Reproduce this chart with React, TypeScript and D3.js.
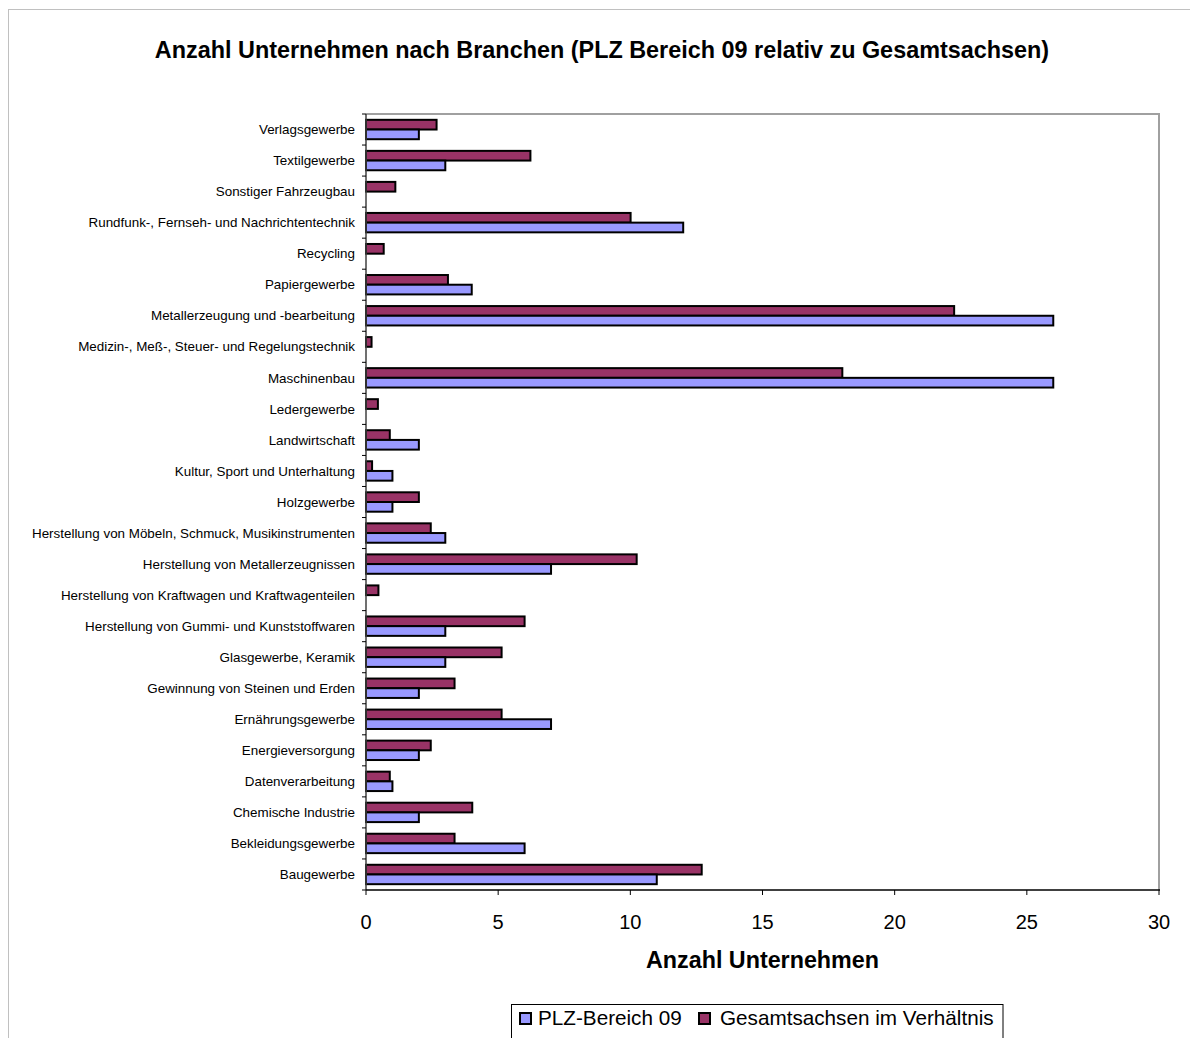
import React from "react";
import * as d3 from "d3";

const categories = [
  "Baugewerbe",
  "Bekleidungsgewerbe",
  "Chemische Industrie",
  "Datenverarbeitung",
  "Energieversorgung",
  "Ernährungsgewerbe",
  "Gewinnung von Steinen und Erden",
  "Glasgewerbe, Keramik",
  "Herstellung von Gummi- und Kunststoffwaren",
  "Herstellung von Kraftwagen und Kraftwagenteilen",
  "Herstellung von Metallerzeugnissen",
  "Herstellung von Möbeln, Schmuck, Musikinstrumenten",
  "Holzgewerbe",
  "Kultur, Sport und Unterhaltung",
  "Landwirtschaft",
  "Ledergewerbe",
  "Maschinenbau",
  "Medizin-, Meß-, Steuer- und Regelungstechnik",
  "Metallerzeugung und -bearbeitung",
  "Papiergewerbe",
  "Recycling",
  "Rundfunk-, Fernseh- und Nachrichtentechnik",
  "Sonstiger Fahrzeugbau",
  "Textilgewerbe",
  "Verlagsgewerbe",
];

const plz09 = [11, 6, 2, 1, 2, 7, 2, 3, 3, 0, 7, 3, 1, 1, 2, 0, 26, 0, 26, 4, 0, 12, 0, 3, 2];
const gesamt = [12.7, 3.35, 4.02, 0.9, 2.45, 5.13, 3.35, 5.13, 6.0, 0.47, 10.24, 2.45, 2.0, 0.23, 0.9, 0.45, 18.02, 0.21, 22.25, 3.1, 0.67, 10.01, 1.11, 6.22, 2.67];

const xTicks = [0, 5, 10, 15, 20, 25, 30];
const seriesNames = ["PLZ-Bereich 09", "Gesamtsachsen im Verhältnis"];
const colors = ["#9999FF", "#993366"];

const FONT = "'Liberation Sans', Arial, sans-serif";

export default function App() {
  const left = 366;
  const right = 1159;
  const top = 114;
  const bottom = 890;

  const x = d3.scaleLinear().domain([0, 30]).range([left, right]);
  // categories from bottom (Baugewerbe) to top
  const y = d3
    .scaleBand<string>()
    .domain(categories.slice().reverse())
    .range([top, bottom]);
  const bw = y.bandwidth();
  const barH = bw / 3.2;

  return (
    <svg
      width={1190}
      height={1038}
      style={{ position: "absolute", left: 0, top: 0, background: "#fff" }}
      fontFamily={FONT}
    >
      <rect x={0} y={0} width={1190} height={1038} fill="#fff" />
      {/* outer frame */}
      <rect x={8.5} y={9.5} width={1190} height={1100} fill="none" stroke="#c0c0c0" strokeWidth={1} />

      {/* title */}
      <text x={602} y={58} textAnchor="middle" fontSize={23.4} fontWeight="bold" fill="#000">
        Anzahl Unternehmen nach Branchen (PLZ Bereich 09 relativ zu Gesamtsachsen)
      </text>

      {/* plot border top/right */}
      <line x1={left} y1={top} x2={right + 1} y2={top} stroke="#a0a0a0" strokeWidth={2} />
      <line x1={right} y1={top} x2={right} y2={bottom} stroke="#a0a0a0" strokeWidth={2} />

      {/* bars */}
      {categories.map((c, i) => {
        const c0 = (y(c) as number) + bw / 2;
        return (
          <g key={c}>
            <rect
              x={x(0)}
              y={c0 - barH}
              width={x(gesamt[i]) - x(0)}
              height={barH}
              fill={colors[1]}
              stroke="#000"
              strokeWidth={2}
            />
            {plz09[i] > 0 && (
              <rect
                x={x(0)}
                y={c0}
                width={x(plz09[i]) - x(0)}
                height={barH}
                fill={colors[0]}
                stroke="#000"
                strokeWidth={2}
              />
            )}
          </g>
        );
      })}

      {/* left axis */}
      <line x1={left} y1={top} x2={left} y2={bottom} stroke="#404040" strokeWidth={1.5} />
      {d3.range(categories.length + 1).map((k) => {
        const yy = top + k * bw;
        return <line key={k} x1={left - 4} x2={left} y1={yy} y2={yy} stroke="#000" strokeWidth={1} />;
      })}
      {categories.map((c) => (
        <text
          key={c}
          x={355}
          y={(y(c) as number) + bw / 2}
          dy="0.35em"
          textAnchor="end"
          fontSize={13.4}
          fill="#000"
        >
          {c}
        </text>
      ))}

      {/* bottom axis */}
      <line x1={left} y1={bottom} x2={right + 1} y2={bottom} stroke="#000" strokeWidth={1.5} />
      {xTicks.map((t) => (
        <g key={t}>
          <line x1={x(t)} x2={x(t)} y1={bottom} y2={bottom + 5} stroke="#000" strokeWidth={1} />
          <text x={x(t)} y={928.5} textAnchor="middle" fontSize={20} fill="#000">
            {t}
          </text>
        </g>
      ))}
      <text x={(left + right) / 2} y={967.5} textAnchor="middle" fontSize={23.3} fontWeight="bold" fill="#000">
        Anzahl Unternehmen
      </text>

      {/* legend */}
      <rect x={511.5} y={1004.5} width={491.5} height={60} fill="#fff" stroke="#000" strokeWidth={1} />
      {seriesNames.map((s, i) => {
        const mx = i === 0 ? 520 : 699;
        const tx = i === 0 ? 538 : 720;
        return (
          <g key={s}>
            <rect x={mx} y={1013} width={11} height={11} fill={colors[i]} stroke="#000" strokeWidth={2} />
            <text x={tx} y={1024.5} fontSize={20.7} fill="#000">
              {s}
            </text>
          </g>
        );
      })}
    </svg>
  );
}
